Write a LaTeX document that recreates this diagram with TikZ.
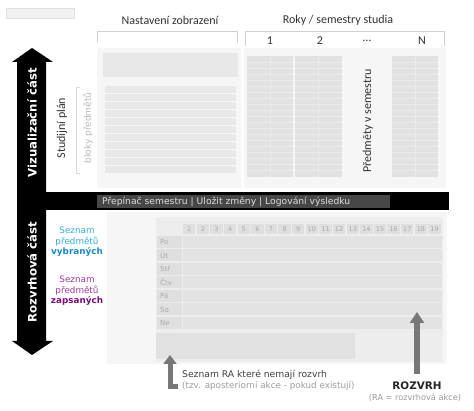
\documentclass[tikz,border=0pt]{standalone}
\usepackage{fontspec}
\setmainfont{DejaVu Sans}
\newfontfamily\calfont{Carlito}
\usetikzlibrary{arrows.meta}
\definecolor{panelbg}{HTML}{F6F6F6}
\definecolor{blockbg}{HTML}{E8E8E8}
\definecolor{colbg}{HTML}{E2E2E2}
\definecolor{colline}{HTML}{EBEBEB}
\definecolor{innerbg}{HTML}{EDEDED}
\definecolor{cellbg}{HTML}{DFDFDF}
\definecolor{rowbg}{HTML}{E3E3E3}
\definecolor{lowbg}{HTML}{E1E1E1}
\definecolor{brk}{HTML}{D0D0D0}
\definecolor{barbox}{HTML}{474747}
\definecolor{bartext}{HTML}{DDDDDD}
\definecolor{blueb}{HTML}{BEE3F2}
\definecolor{pinkb}{HTML}{DCB5D9}
\definecolor{bluet}{HTML}{35AEDD}
\definecolor{bluetd}{HTML}{168CC2}
\definecolor{purpt}{HTML}{A4399E}
\definecolor{purptd}{HTML}{7C0E7A}
\definecolor{arrgray}{HTML}{777777}
\definecolor{txtdark}{HTML}{333333}
\definecolor{txtlight}{HTML}{AAAAAA}
\tikzset{
  calhead/.style={font=\calfont\fontsize{12}{14}\selectfont, text=txtdark, inner sep=0pt},
  bigwhite/.style={font=\bfseries\fontsize{11.7}{13}\selectfont, text=white, rotate=90, inner sep=0pt},
  bracketline/.style={draw=brk, line width=0.8pt},
  smallgray/.style={font=\fontsize{6.5}{7.5}\selectfont, text=txtlight, inner sep=0pt},
  graybigarrow/.style={draw=arrgray, line width=5.5pt, -{Triangle[width=13pt,length=9pt]}},
}
\begin{document}
\begin{tikzpicture}[x=1pt,y=-1pt]
\useasboundingbox (0,0) rectangle (474,411);
\fill[white] (0,0) rectangle (474,411);

% top-left small box
\filldraw[fill=black!5, draw=black!12, line width=0.5pt] (6,8) rectangle (74,18);

% headings
\node[calhead] (nast) at (170,20) {Nastavení zobrazení};
\node[calhead] (roky) at (338,20) {Roky / semestry studia};
\draw[bracketline] (97,43) -- (97,31) -- (237,31) -- (237,43);
\draw[bracketline] (245,46) -- (245,31) -- (444,31) -- (444,46);
\node[calhead] (c1) at (270,41) {1};
\node[calhead] (c2) at (320,41) {2};
\node[calhead] (c3) at (367,41) {…};
\node[calhead] (cN) at (422,41) {N};

% visualisation panels
\fill[panelbg] (97,48) rectangle (241,188);
\fill[panelbg] (244,48) rectangle (446,188);
\fill[blockbg] (103,53) rectangle (238,77);
\foreach \i in {0,...,10} {
  \fill[blockbg] (105,86+8*\i) rectangle (236,93+8*\i);
}
% semester columns
\foreach \a/\b in {247/293, 295/342, 392/438} {
  \fill[colbg] (\a,56) rectangle (\b,177);
  \foreach \k in {1,...,19} { \draw[colline, line width=0.5pt] (\a,56+6*\k) -- (\b,56+6*\k); }
  \draw[colline, line width=0.8pt] ({(\a+\b)/2},56) -- ({(\a+\b)/2},177);
}
\node[font=\calfont\fontsize{12}{14}\selectfont, text=txtdark, rotate=90, inner sep=0pt] (predm) at (368,121) {Předměty v semestru};

% studijni plan labels
\node[calhead, rotate=90] (stud) at (62,128) {Studijní plán};
\node[font=\fontsize{9}{10}\selectfont, text=black!28, rotate=90, inner sep=0pt] (bloky) at (88,128) {bloky předmětů};
\draw[bracketline, draw=black!15] (80,87) -- (76,87) -- (76,173) -- (80,173);

% black arrows and bar
\fill[black] (17,192) -- (17,62) -- (12,62) -- (32,48) -- (53,62) -- (46,62) -- (46,192) -- cycle;
\fill[black] (17,210) -- (17,341) -- (12,341) -- (32,355) -- (53,341) -- (46,341) -- (46,210) -- cycle;
\fill[black] (17,192) rectangle (449,210);
\fill[barbox] (97,195) rectangle (390,208);
\node[anchor=west, font=\fontsize{9.2}{10}\selectfont, text=bartext, inner sep=0pt] (bar) at (102,201.5) {Přepínač semestru | Uložit změny | Logování výsledku};
\node[bigwhite] (viz) at (32,123) {Vizualizační část};
\node[bigwhite] (roz) at (32,272) {Rozvrhová část};

% seznam boxes
\fill[blueb] (112,218) rectangle (151,266);
\fill[pinkb] (112,270) rectangle (151,318);
\node[align=center, font=\fontsize{8.8}{10.5}\selectfont, text=bluet, inner sep=0pt] (vyb) at (77,242) {Seznam\\předmětů\\\textcolor{bluetd}{\bfseries vybraných}};
\node[align=center, font=\fontsize{8.8}{10.5}\selectfont, text=purpt, inner sep=0pt] (zap) at (77,291) {Seznam\\předmětů\\\textcolor{purptd}{\bfseries zapsaných}};

% rozvrh panel
\fill[panelbg] (107,212) rectangle (447,364);
\fill[innerbg] (156,217) rectangle (443,362);
\foreach \n in {1,...,19} {
  \fill[cellbg] ({183+13.63*(\n-1)},224) rectangle ({183+13.63*(\n-1)+12.4},234);
  \node[smallgray] (h\n) at ({183+13.63*(\n-1)+6.2},229) {\n};
}
\foreach \d [count=\j from 0] in {Po,Út,Stř,Čtv,Pá,So,Ne} {
  \fill[cellbg] (157,{236+13.5*\j}) rectangle (182,{248+13.5*\j});
  \fill[rowbg] (183,{236+13.5*\j}) rectangle (442,{248+13.5*\j});
  \node[font=\fontsize{7}{8}\selectfont, text=txtlight, anchor=west, inner sep=0pt] (d\j) at (160,{242+13.5*\j}) {\d};
}
\fill[lowbg] (156,333) rectangle (355,359);

% Seznam RA arrow and text
\node[anchor=west, font=\fontsize{9.2}{10}\selectfont, text=black!75, inner sep=0pt] (ra) at (182,375) {Seznam RA které nemají rozvrh};
\node[anchor=west, font=\fontsize{8.8}{10}\selectfont, text=black!38, inner sep=0pt] (tzv) at (182,386) {(tzv. aposteriorní akce - pokud existují)};
\coordinate (raStart) at (178,387);
\coordinate (raTip) at (170,355);
\draw[graybigarrow, line width=5pt, line join=miter] (raStart) -| (raTip);

% ROZVRH
\node[font=\bfseries\fontsize{10.4}{12}\selectfont, text=black!85, inner sep=0pt] (rozvrh) at (417,386) {ROZVRH};
\node[font=\fontsize{8.2}{9}\selectfont, text=black!40, inner sep=0pt] (ra2) at (415,398) {(RA = rozvrhová akce)};
\coordinate (gridTip) at (417,312);
\draw[graybigarrow, line width=6pt, -{Triangle[width=14pt,length=11pt]}] ([yshift=8pt]rozvrh.north) -- (gridTip);
\end{tikzpicture}
\end{document}
